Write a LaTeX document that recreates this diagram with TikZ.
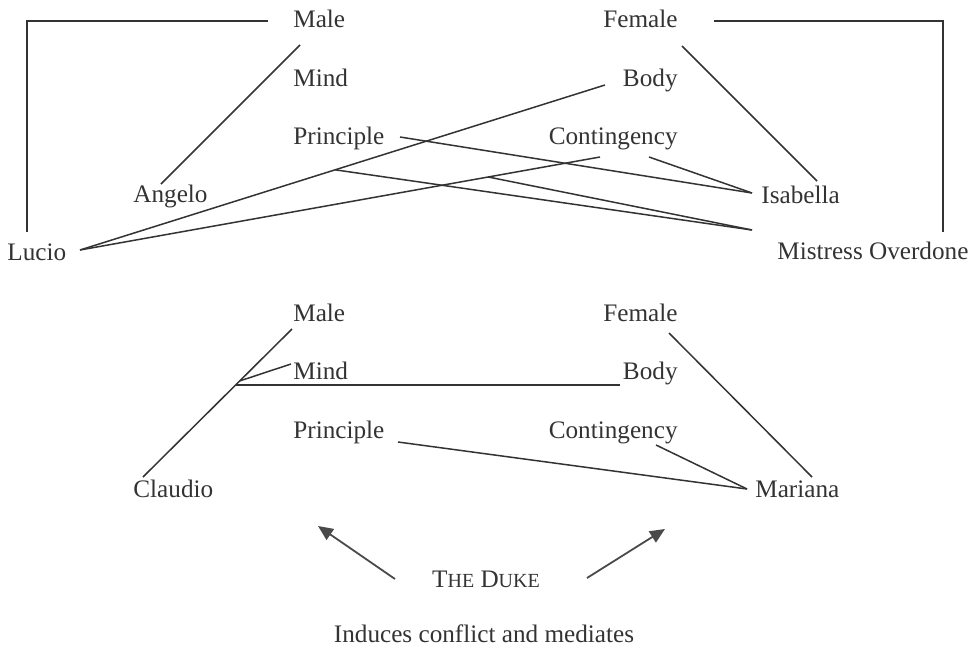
\documentclass[tikz,border=0pt]{standalone}
\usepackage{fontspec}
\setmainfont{Liberation Serif}
\usetikzlibrary{arrows.meta,calc}
\definecolor{ink}{HTML}{333333}
\definecolor{arrowink}{HTML}{4A4A4A}
\begin{document}
\begin{tikzpicture}[x=0.5pt,y=-0.5pt,
  lbl/.style={inner sep=0pt,font=\fontsize{12.6}{15}\selectfont,text=ink},
  lw/.style={lbl,anchor=base west},
  le/.style={lbl,anchor=base east},
  link/.style={draw=ink,line width=0.75pt},
  push/.style={draw=arrowink,line width=0.9pt,-{Triangle[length=7.5pt,width=6.5pt]}}]
\useasboundingbox (0,0) rectangle (970,648);

% ---------- upper diagram: labels ----------
\node[lw] (male1)    at (293,27)  {Male};
\node[lw] (mind1)    at (293,86)  {Mind};
\node[lw] (prin1)    at (293,144) {Principle};
\node[lw] (angelo)   at (133,202) {Angelo};
\node[lw] (lucio)    at (7,260)   {Lucio};
\node[le] (female1)  at (678,27)  {Female};
\node[le] (body1)    at (678,86)  {Body};
\node[le] (cont1)    at (678,144) {Contingency};
\node[lw] (isabella) at (761,203) {Isabella};
\node[lw] (overdone) at (777,259) {Mistress Overdone};

% ---------- upper diagram: ports ----------
\coordinate (lucioUp)   at (27,232);
\coordinate (maleL)     at (268,21);
\coordinate (femR)      at (714,21);
\coordinate (overUp)    at (943,232);
\coordinate (angeloP)   at (161,184);
\coordinate (male1P)    at (300,45);
\coordinate (lucioP)    at (80,250);
\coordinate (body1P)    at (605,85);
\coordinate (cont1L)    at (600,157);
\coordinate (cont1R)    at (649,157);
\coordinate (prin1P)    at (400,137);
\coordinate (isabP)     at (752,193);
\coordinate (overP)     at (752,230);
\coordinate (female1P)  at (682,46);
\coordinate (isabTop)   at (817,181);
\coordinate (jA) at ($(lucioP)!0.486!(body1P)$);
\coordinate (jB) at ($(lucioP)!0.785!(cont1L)$);

% ---------- upper diagram: connectors ----------
\draw[link] (lucioUp) |- (maleL);
\draw[link] (femR) -| (overUp);
\draw[link] (angeloP) -- (male1P);
\draw[link] (lucioP) -- (body1P);
\draw[link] (lucioP) -- (cont1L);
\draw[link] (jA) -- (overP);
\draw[link] (jB) -- (overP);
\draw[link] (prin1P) -- (isabP);
\draw[link] (cont1R) -- (isabP);
\draw[link] (female1P) -- (isabTop);

% ---------- lower diagram: labels ----------
\node[lw] (male2)   at (293,321) {Male};
\node[lw] (mind2)   at (293,379) {Mind};
\node[lw] (prin2)   at (293,438) {Principle};
\node[lw] (claudio) at (133,497) {Claudio};
\node[le] (female2) at (678,321) {Female};
\node[le] (body2)   at (678,379) {Body};
\node[le] (cont2)   at (678,438) {Contingency};
\node[lw] (mariana) at (755,497) {Mariana};

% ---------- lower diagram: ports ----------
\coordinate (claudioP) at (143,477);
\coordinate (male2P)   at (292,329);
\coordinate (mind2P)   at (291,364);
\coordinate (body2P)   at (620,385);
\coordinate (prin2P)   at (398,442);
\coordinate (cont2P)   at (656,445);
\coordinate (marP)     at (747,489);
\coordinate (female2P) at (669,333);
\coordinate (marTop)   at (812,477);
\coordinate (jC) at ($(claudioP)!0.622!(male2P)$);
\coordinate (jD) at ($(claudioP)!0.649!(male2P)$);
\coordinate (jE) at (body2P |- jC);

% ---------- lower diagram: connectors ----------
\draw[link] (claudioP) -- (male2P);
\draw[link] (jD) -- (mind2P);
\draw[link] (jC) -- (jE);
\draw[link] (prin2P) -- (marP);
\draw[link] (cont2P) -- (marP);
\draw[link] (female2P) -- (marTop);

% ---------- the Duke ----------
\node[lbl,anchor=base] (duke) at (486,587)
  {T{\fontsize{10}{12}\selectfont HE} D{\fontsize{10}{12}\selectfont UKE}};
\node[lbl,anchor=base] (induces) at (484,642) {Induces conflict and mediates};
\coordinate (dukeL)  at (395,579);
\coordinate (tipL)   at (318,526);
\coordinate (dukeR)  at (587,578);
\coordinate (tipR)   at (665,529);
\draw[push] (dukeL) -- (tipL);
\draw[push] (dukeR) -- (tipR);
\end{tikzpicture}
\end{document}
